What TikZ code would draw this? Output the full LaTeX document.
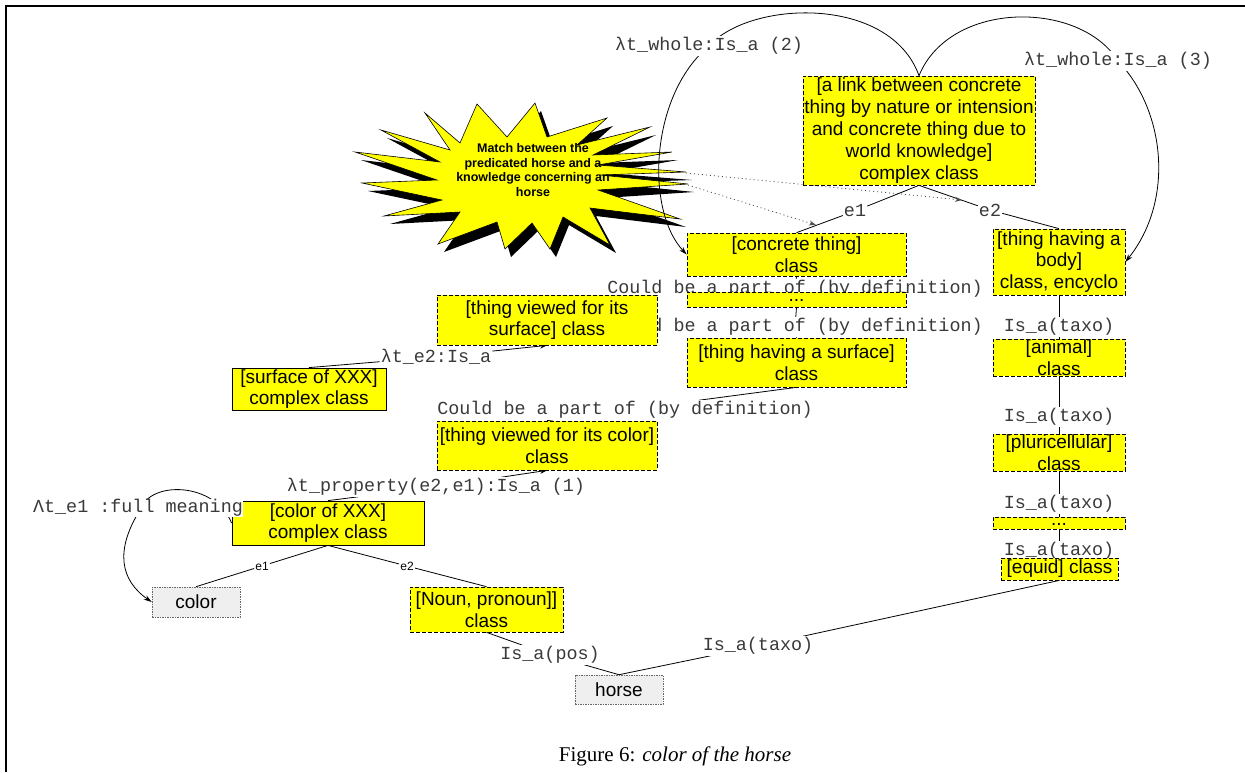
\documentclass[tikz,border=0pt]{standalone}
\usepackage{fontspec}
\setmainfont{Liberation Serif}
\newfontfamily\sansf{Liberation Sans}
\newfontfamily\monof{Liberation Mono}
\usetikzlibrary{arrows.meta}
\pgfdeclarelayer{bottom}
\pgfdeclarelayer{edges}
\pgfsetlayers{bottom,edges,main}
\definecolor{boxyellow}{HTML}{FFFF00}
\definecolor{boxgray}{HTML}{EFEFEF}
\definecolor{labgray}{HTML}{3A3A3A}
\tikzset{
  burst/.pic={
    \path[pic actions] (425,113) -- (460,143) -- (477,104) -- (507,137) -- (535,103) -- (547,137)
      -- (607,118) -- (577,145) -- (650,127) -- (593,155) -- (672,152) -- (598,165)
      -- (686,172) -- (600,175) -- (688,184) -- (598,190) -- (680,219) -- (590,208)
      -- (610,245) -- (563,217) -- (550,249) -- (532,223) -- (505,249) -- (497,222)
      -- (438,244) -- (460,212) -- (384,216) -- (442,200) -- (362,183) -- (437,180)
      -- (355,152) -- (440,162) -- (381,130) -- (450,150) -- cycle;
  }
}
\begin{document}
\begin{tikzpicture}[x=1pt,y=-1pt,
  ybox/.style={draw, line width=0.7pt, dash pattern=on 4pt off 2pt, fill=boxyellow,
    font=\sansf\fontsize{19}{21.8}\selectfont, align=center, inner sep=0pt},
  sbox/.style={draw, line width=0.8pt, fill=boxyellow,
    font=\sansf\fontsize{19}{21.8}\selectfont, align=center, inner sep=0pt},
  gbox/.style={draw=black!60, line width=0.6pt, dash pattern=on 1.5pt off 1pt, fill=boxgray,
    font=\sansf\fontsize{19}{21.8}\selectfont, align=center, inner sep=0pt},
  lab/.style={font=\monof\fontsize{18.4}{21}\selectfont, text=labgray, inner sep=1pt, fill=white},
  slab/.style={font=\sansf\fontsize{12}{14}\selectfont, inner sep=1pt},
  link/.style={line width=0.8pt},
  arrowlink/.style={line width=0.8pt, -{Stealth[length=7pt,width=5pt]}},
  arcarrow/.style={line width=0.8pt, -{Stealth[length=8pt,width=5pt]}},
  dotarrow/.style={line width=0.8pt, black!70, dash pattern=on 1pt off 3pt, -{Stealth[length=7pt,width=5pt]}}
]
\useasboundingbox (0,0) rectangle (1245,772);

% frame
\draw[line width=2pt] (6,772) -- (6,6) -- (1245,6);

% starburst
\begin{pgfonlayer}{bottom}
  \pic[fill=black] at (6,8) {burst};
  \pic[fill=boxyellow, draw=black, line width=0.6pt] at (0,0) {burst};
\end{pgfonlayer}
\node[font=\sansf\bfseries\fontsize{12.5}{14.5}\selectfont, align=center, inner sep=0pt] (burst) at (533,170)
  {Match between the\\predicated horse and a\\knowledge concerning an\\horse};
\coordinate (s1) at (686,173);
\coordinate (d1) at (962,200);
\coordinate (s2) at (688,185);
\coordinate (d2) at (816,225);

% labels
\node[lab] (w2) at (709,46) {λt\_whole:Is\_a (2)};
\node[lab] (w3) at (1118,61) {λt\_whole:Is\_a (3)};
\node[lab, fill=none] (e1t) at (855,211) {e1};
\node[lab, fill=none] (e2t) at (990,210) {e2};
\node[lab] (cb1) at (795,289) {Could be a part of (by definition)};
\node[lab] (cb2) at (795,327) {Could be a part of (by definition)};
\node[lab] (cb3) at (625,410) {Could be a part of (by definition)};
\node[lab] (e2isa) at (436,357) {λt\_e2:Is\_a};
\node[lab] (prop) at (436,487) {λt\_property(e2,e1):Is\_a (1)};
\node[slab] (e1b) at (262,566) {e1};
\node[slab] (e2b) at (407,566) {e2};
\node[lab] (pos) at (550,655) {Is\_a(pos)};
\node[lab] (taxo) at (758,646) {Is\_a(taxo)};
\node[lab] (t1) at (1059,327) {Is\_a(taxo)};
\node[lab] (t2) at (1059,417) {Is\_a(taxo)};
\node[lab] (t3) at (1059,504) {Is\_a(taxo)};
\node[lab] (t4) at (1059,551) {Is\_a(taxo)};

% boxes
\node[ybox, minimum width=232pt, minimum height=109pt] (top) at (919,130.5)
  {[a link between concrete\\thing by nature or intension\\and concrete thing due to\\world knowledge]\\complex class};
\node[ybox, minimum width=219pt, minimum height=43pt] (concrete) at (796.5,254.5) {[concrete thing]\\class};
\node[ybox, minimum width=219pt, minimum height=15pt] (dots1) at (796.5,299.5) {\raisebox{-2pt}[0pt][0pt]{...}};
\node[ybox, minimum width=219pt, minimum height=49pt] (surfthing) at (796.5,362.5) {[thing having a surface]\\class};
\node[ybox, minimum width=220pt, minimum height=50pt] (viewsurf) at (547,320) {[thing viewed for its\\surface] class};
\node[sbox, minimum width=154pt, minimum height=42pt] (surfxxx) at (309,389) {[surface of XXX]\\complex class};
\node[ybox, minimum width=220pt, minimum height=49pt] (viewcolor) at (547,445.5) {[thing viewed for its color]\\class};
\node[sbox, minimum width=192pt, minimum height=44pt] (colorxxx) at (328,523) {[color of XXX]\\complex class};
\node[gbox, minimum width=88pt, minimum height=30pt] (color) at (196,602) {color};
\node[ybox, minimum width=153pt, minimum height=45pt] (noun) at (486.5,609.5) {[Noun, pronoun]]\\class};
\node[gbox, minimum width=88pt, minimum height=29pt] (horse) at (619,689.5) {horse};
\node[ybox, minimum width=132pt, minimum height=66pt] (body) at (1059,262) {[thing having a\\body]\\class, encyclo};
\node[ybox, minimum width=132pt, minimum height=37pt] (animal) at (1059,357.5) {[animal]\\class};
\node[ybox, minimum width=132pt, minimum height=37pt] (pluri) at (1059,452.5) {[pluricellular]\\class};
\node[ybox, minimum width=132pt, minimum height=12pt] (dots2) at (1059,523) {\raisebox{-2pt}[0pt][0pt]{...}};
\node[ybox, minimum width=117pt, minimum height=22pt] (equid) at (1059.5,569) {[equid] class};

% label lying over the box corner
\node[lab, inner sep=0.5pt] (full) at (138,508) {Λt\_e1 :full meaning};

% caption
\node[font=\fontsize{21}{24}\selectfont, inner sep=0pt] (cap) at (675,756) {Figure 6: \textit{color of the horse}};

% connectors
\begin{pgfonlayer}{edges}
  \draw[arcarrow] (top.north) .. controls (890,-5) and (750,0) .. (w2.center)
     .. controls (650,95) and (645,210) .. (concrete.west);
  \draw[arcarrow] (top.north) .. controls (950,0) and (1080,0) .. (w3.center)
     .. controls (1165,110) and (1175,200) .. (body.east);
  \draw[link] (top.south) -- (e1t);
  \draw[link] (e1t) -- (concrete.north);
  \draw[link] (top.south) -- (e2t);
  \draw[link] (e2t) -- (body.north);
  \draw[dotarrow] (s1) -- (d1);
  \draw[dotarrow] (s2) -- (d2);
  \draw[link] (concrete.south) -- (cb1);
  \draw[link] (cb1) -- (dots1.north);
  \draw[link] (dots1.south) -- (cb2);
  \draw[link] (cb2) -- (surfthing.north);
  \draw[link] (surfthing.south) -- (cb3);
  \draw[link] (cb3) -- (viewcolor.north);
  \draw[link] (surfxxx.north) -- (e2isa);
  \draw[arrowlink] (e2isa) -- (viewsurf.south);
  \draw[link] (colorxxx.north) -- (prop);
  \draw[arrowlink] (prop) -- (viewcolor.south);
  \draw[arcarrow] (colorxxx.west) .. controls (215,482) and (150,480) .. (140,510)
     .. controls (115,550) and (120,580) .. (color.west);
  \draw[link] (colorxxx.south) -- (e1b);
  \draw[link] (e1b) -- (color.north);
  \draw[link] (colorxxx.south) -- (e2b);
  \draw[link] (e2b) -- (noun.north);
  \draw[link] (noun.south) -- (pos);
  \draw[link] (pos) -- (horse.north);
  \draw[link] (horse.north) -- (taxo);
  \draw[link] (taxo) -- (equid.south);
  \draw[link] (body.south) -- (t1);
  \draw[link] (t1) -- (animal.north);
  \draw[link] (animal.south) -- (t2);
  \draw[link] (t2) -- (pluri.north);
  \draw[link] (pluri.south) -- (t3);
  \draw[link] (t3) -- (dots2.north);
  \draw[link] (dots2.south) -- (t4);
  \draw[link] (t4) -- (equid.north);
\end{pgfonlayer}
\end{tikzpicture}
\end{document}
